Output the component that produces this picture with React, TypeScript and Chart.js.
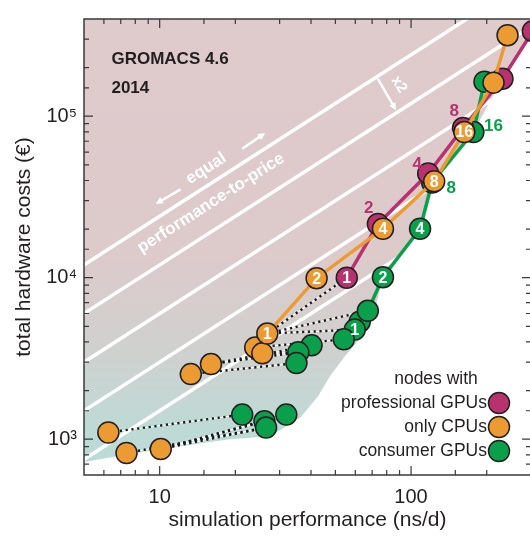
import React, { useEffect, useRef } from 'react';
import { Chart, registerables } from 'chart.js';

Chart.register(...registerables);

const FONT = '"Liberation Sans", Arial, Helvetica, sans-serif';
const INK = '#231f20';
const MAGENTA = '#b7326f';
const ORANGE = '#ec9b33';
const GREEN = '#0a9f4a';

// axes
const X_MIN = 5;
const X_MAX = 300;
const Y_MIN = 600;
const Y_MAX = 400000;
const xTickValues = [10, 100];
const xTickText = ['10', '100'];
const yTickValues = [1000, 10000, 100000];
const yTickText = ['10³', '10⁴', '10⁵'];

// nodes with professional GPUs
const profPerf = [55.5, 73.8, 117, 161, 231, 305];
const profCost = [10000, 21500, 44200, 84500, 170700, 336000];
const profNodes = ['1', '', '', '', '', ''];

// only CPUs
const cpuPerf = [26.8, 42.1, 77.3, 123.6, 162.9, 212.8, 242];
const cpuCost = [4510, 9930, 20100, 39500, 79800, 161400, 317500];
const cpuNodes = ['1', '2', '4', '8', '16', '', ''];

// consumer GPUs
const gpuPerf = [67.3, 77.3, 108.6, 121.3, 177, 195.9];
const gpuCost = [6240, 10070, 20100, 38900, 79800, 163700];
const gpuNodes = ['', '2', '4', '', '', ''];

// single nodes (not connected by lines)
const cpuSinglePerf = [24.0, 25.6, 16.0, 13.3, 6.25, 7.38, 10.1];
const cpuSingleCost = [3700, 3400, 2920, 2530, 1100, 821, 869];
const gpuSinglePerf = [62.5, 59.7, 54.0, 40.2, 35.6, 35.0, 21.3, 26.1, 26.5, 31.9];
const gpuSingleCost = [5340, 4770, 4150, 3810, 3450, 2960, 1420, 1290, 1180, 1420];
const gpuSingleNodes = ['', '1', '', '', '', '', '', '', '', ''];

// dotted links: CPU node -> same node with GPU(s)
const linkFromPerf = [26.8, 26.8, 26.8, 24.0, 25.6, 16.0, 16.0, 13.3, 6.25, 10.1, 10.1, 10.1, 7.38];
const linkFromCost = [4510, 4510, 4510, 3700, 3400, 2920, 2920, 2530, 1100, 869, 869, 869, 821];
const linkToPerf = [55.5, 67.3, 59.7, 54.0, 35.6, 35.6, 40.2, 35.0, 21.3, 26.1, 26.5, 31.9, 26.5];
const linkToCost = [10000, 6240, 4770, 4150, 3450, 3450, 3810, 2960, 1420, 1290, 1180, 1420, 1180];

// equal performance-to-price lines (cost per ns/d)
const priceRatios = [2400, 1200, 600, 300, 150];

// shaded region boundary
const shadePerf = [5, 10, 19.05, 27.5, 36.3, 42.5, 47.9, 55.0, 64.3, 72.4, 77.3, 108.6, 121.3, 177, 231, 305, 330];
const shadeCost = [723, 869, 1000, 1043, 1363, 1832, 2498, 3311, 4387, 6690, 10070, 20100, 38900, 79800, 170700, 336000, 420000];

// annotations (data coordinates)
const profLabelPerf = [67.9, 105.7, 148.6];
const profLabelCost = [26980, 50100, 107400];
const profLabelText = ['2', '4', '8'];
const gpuLabelPerf = [144.5, 212.8];
const gpuLabelCost = [35700, 86900];
const gpuLabelText = ['8', '16'];

const zip = (xs: number[], ys: number[]) => xs.map((x, i) => ({ x, y: ys[i] }));

const annotPlugin = {
  id: 'annot',
  afterDatasetsDraw(chart: any) {
    const { ctx, chartArea: a, scales } = chart;
    const xs = scales.x;
    const ys = scales.y;
    const px = (v: number) => xs.getPixelForValue(v);
    const py = (v: number) => ys.getPixelForValue(v);
    ctx.save();

    // numbers inside the circles
    ctx.font = `bold 16px ${FONT}`;
    ctx.fillStyle = '#ffffff';
    ctx.textAlign = 'center';
    ctx.textBaseline = 'middle';
    chart.data.datasets.forEach((ds: any, i: number) => {
      if (!ds.nodeLabels) return;
      const meta = chart.getDatasetMeta(i);
      meta.data.forEach((el: any, j: number) => {
        const t = ds.nodeLabels[j];
        if (t) ctx.fillText(t, el.x, el.y + 1);
      });
    });

    // numbers next to the points
    ctx.font = `bold 17px ${FONT}`;
    ctx.fillStyle = MAGENTA;
    profLabelText.forEach((t, i) => ctx.fillText(t, px(profLabelPerf[i]), py(profLabelCost[i])));
    ctx.fillStyle = GREEN;
    gpuLabelText.forEach((t, i) => ctx.fillText(t, px(gpuLabelPerf[i]), py(gpuLabelCost[i])));

    // title texts
    ctx.fillStyle = INK;
    ctx.textAlign = 'left';
    ctx.font = `bold 17px ${FONT}`;
    ctx.fillText('GROMACS 4.6', px(6.43), py(226500));
    ctx.fillText('2014', px(6.43), py(148300));

    // equal performance-to-price annotation
    const ang = Math.atan2(py(100 * 1000) - py(10 * 1000), px(100) - px(10));
    const drawRot = (text: string, x: number, y: number, r: number) => {
      ctx.save();
      ctx.translate(x, y);
      ctx.rotate(r);
      ctx.fillText(text, 0, 0);
      ctx.restore();
    };
    const arrow = (x1: number, y1: number, x2: number, y2: number) => {
      const d = Math.atan2(y2 - y1, x2 - x1);
      const h = 8;
      ctx.beginPath();
      ctx.moveTo(x1, y1);
      ctx.lineTo(x2 - Math.cos(d) * h * 0.8, y2 - Math.sin(d) * h * 0.8);
      ctx.stroke();
      ctx.beginPath();
      ctx.moveTo(x2, y2);
      ctx.lineTo(x2 - h * Math.cos(d - 0.45), y2 - h * Math.sin(d - 0.45));
      ctx.lineTo(x2 - h * Math.cos(d + 0.45), y2 - h * Math.sin(d + 0.45));
      ctx.closePath();
      ctx.fill();
    };
    ctx.fillStyle = '#ffffff';
    ctx.strokeStyle = '#ffffff';
    ctx.lineWidth = 2.5;
    ctx.textAlign = 'center';
    ctx.textBaseline = 'middle';
    ctx.font = `bold 17px ${FONT}`;
    drawRot('equal', px(15.3), py(47400), ang);
    drawRot('performance-to-price', px(16.0), py(28970), ang);
    arrow(px(12.1), py(35200), px(9.64), py(28600));
    arrow(px(21.3), py(62800), px(26.3), py(78700));
    arrow(px(73.8), py(170600), px(87.1), py(108900));
    ctx.font = `bold 15px ${FONT}`;
    drawRot('x2', px(89.5), py(157000), ang + Math.PI / 2);

    // legend
    ctx.fillStyle = INK;
    ctx.font = `17.5px ${FONT}`;
    ctx.textAlign = 'center';
    ctx.fillText('nodes with', a.right - 95, a.bottom - 96);
    const rows = [
      ['professional GPUs', MAGENTA],
      ['only CPUs', ORANGE],
      ['consumer GPUs', GREEN],
    ];
    rows.forEach(([t, c], i) => {
      const y = a.bottom - 72 + i * 24;
      ctx.fillStyle = INK;
      ctx.textAlign = 'right';
      ctx.fillText(t, a.right - 44, y);
      ctx.beginPath();
      ctx.arc(a.right - 32, y, 10.5, 0, Math.PI * 2);
      ctx.fillStyle = c;
      ctx.fill();
      ctx.lineWidth = 1.5;
      ctx.strokeStyle = INK;
      ctx.stroke();
    });

    // frame and inward ticks
    ctx.strokeStyle = '#3a3a3a';
    ctx.lineWidth = 1.5;
    ctx.strokeRect(a.left, a.top, a.right - a.left, a.bottom - a.top);
    ctx.lineWidth = 1.2;
    const isMajor = (v: number) => Math.abs(Math.log10(v) - Math.round(Math.log10(v))) < 1e-6;
    xs.ticks.forEach((t: any) => {
      const x = px(t.value);
      if (x < a.left + 1 || x > a.right - 1) return;
      const len = isMajor(t.value) ? 9 : 5;
      ctx.beginPath();
      ctx.moveTo(x, a.bottom);
      ctx.lineTo(x, a.bottom - len);
      ctx.moveTo(x, a.top);
      ctx.lineTo(x, a.top + len);
      ctx.stroke();
    });
    ys.ticks.forEach((t: any) => {
      const y = py(t.value);
      if (y < a.top + 1 || y > a.bottom - 1) return;
      const len = isMajor(t.value) ? 9 : 5;
      ctx.beginPath();
      ctx.moveTo(a.left, y);
      ctx.lineTo(a.left + len, y);
      ctx.moveTo(a.right, y);
      ctx.lineTo(a.right - len, y);
      ctx.stroke();
    });
    ctx.restore();
  },
};

export default function App() {
  const ref = useRef<HTMLCanvasElement>(null);
  useEffect(() => {
    if (!ref.current) return;
    const pointStyle = (color: string) => ({
      backgroundColor: color,
      pointBackgroundColor: color,
      pointBorderColor: INK,
      pointBorderWidth: 1.5,
      pointRadius: 10.5,
      pointHoverRadius: 10.5,
    });
    const datasets: any[] = [];
    datasets.push({
      data: zip(shadePerf, shadeCost),
      showLine: true,
      fill: 'end',
      borderWidth: 0,
      borderColor: 'rgba(0,0,0,0)',
      pointRadius: 0,
      order: 20,
      backgroundColor: (c: any) => {
        const area = c.chart.chartArea;
        if (!area) return 'rgba(0,0,0,0)';
        const g = c.chart.ctx.createLinearGradient(0, area.top, 0, area.bottom);
        g.addColorStop(0, '#dfcacc');
        g.addColorStop(0.52, '#ddcacb');
        g.addColorStop(0.73, '#cfd1cf');
        g.addColorStop(0.9, '#bedad6');
        g.addColorStop(1, '#b8dcd7');
        return g;
      },
    });
    priceRatios.forEach((k) => {
      datasets.push({
        data: [{ x: X_MIN * 0.9, y: X_MIN * 0.9 * k }, { x: X_MAX * 1.1, y: X_MAX * 1.1 * k }],
        showLine: true,
        borderColor: '#ffffff',
        borderWidth: 3.5,
        pointRadius: 0,
        fill: false,
        order: 18,
      });
    });
    linkFromPerf.forEach((_, i) => {
      const d = [{ x: linkFromPerf[i], y: linkFromCost[i] }, { x: linkToPerf[i], y: linkToCost[i] }];
      datasets.push({ data: d, showLine: true, borderColor: 'rgba(255,255,255,0.85)', borderWidth: 1.2, pointRadius: 0, fill: false, order: 16 });
      datasets.push({ data: d, showLine: true, borderColor: '#1a1a1a', borderWidth: 2.4, borderDash: [2.2, 3.6], pointRadius: 0, fill: false, order: 15 });
    });
    datasets.push({ data: zip(gpuSinglePerf, gpuSingleCost), showLine: false, nodeLabels: gpuSingleNodes, order: 9, ...pointStyle(GREEN) });
    datasets.push({ data: zip(cpuSinglePerf, cpuSingleCost), showLine: false, order: 8, ...pointStyle(ORANGE) });
    datasets.push({ data: zip(gpuPerf, gpuCost), showLine: true, borderColor: GREEN, borderWidth: 3.5, nodeLabels: gpuNodes, fill: false, order: 7, ...pointStyle(GREEN) });
    datasets.push({ data: zip(profPerf, profCost), showLine: true, borderColor: MAGENTA, borderWidth: 3.5, nodeLabels: profNodes, fill: false, order: 6, ...pointStyle(MAGENTA) });
    datasets.push({ data: zip(cpuPerf, cpuCost), showLine: true, borderColor: ORANGE, borderWidth: 3.5, nodeLabels: cpuNodes, fill: false, order: 5, ...pointStyle(ORANGE) });

    const chart = new Chart(ref.current, {
      type: 'scatter',
      data: { datasets },
      plugins: [annotPlugin],
      options: {
        animation: false,
        responsive: false,
        devicePixelRatio: 1,
        layout: { padding: { left: 0, top: 15, right: 15, bottom: 0 } },
        plugins: { legend: { display: false }, tooltip: { enabled: false } },
        events: [],
        scales: {
          x: {
            type: 'logarithmic',
            min: X_MIN,
            max: X_MAX,
            grid: { display: false, drawTicks: false },
            border: { display: false },
            afterFit: (s: any) => { s.height = 61; },
            ticks: {
              autoSkip: false,
              maxRotation: 0,
              padding: 10,
              color: INK,
              font: { family: FONT, size: 20 },
              callback: (v: any) => {
                const i = xTickValues.findIndex((t) => Math.abs(t - Number(v)) < 1e-6 * t);
                return i >= 0 ? xTickText[i] : '';
              },
            },
            title: {
              display: true,
              text: 'simulation performance (ns/d)',
              color: INK,
              font: { family: FONT, size: 21 },
              padding: { top: 0, bottom: 3 },
            },
          },
          y: {
            type: 'logarithmic',
            min: Y_MIN,
            max: Y_MAX,
            grid: { display: false, drawTicks: false },
            border: { display: false },
            afterFit: (s: any) => { s.width = 84; },
            ticks: {
              autoSkip: false,
              padding: 7,
              color: INK,
              font: { family: FONT, size: 20 },
              callback: (v: any) => {
                const i = yTickValues.findIndex((t) => Math.abs(t - Number(v)) < 1e-6 * t);
                return i >= 0 ? yTickText[i] : '';
              },
            },
            title: {
              display: true,
              text: 'total hardware costs (€)',
              color: INK,
              font: { family: FONT, size: 21 },
              padding: { top: 12, bottom: 0 },
            },
          },
        },
      } as any,
    });
    return () => chart.destroy();
  }, []);
  return (
    <div style={{ position: 'fixed', left: 0, top: 0, width: 530, height: 536, overflow: 'hidden', background: '#ffffff' }}>
      <canvas ref={ref} width={546} height={536} style={{ display: 'block', width: 546, height: 536 }} />
    </div>
  );
}
